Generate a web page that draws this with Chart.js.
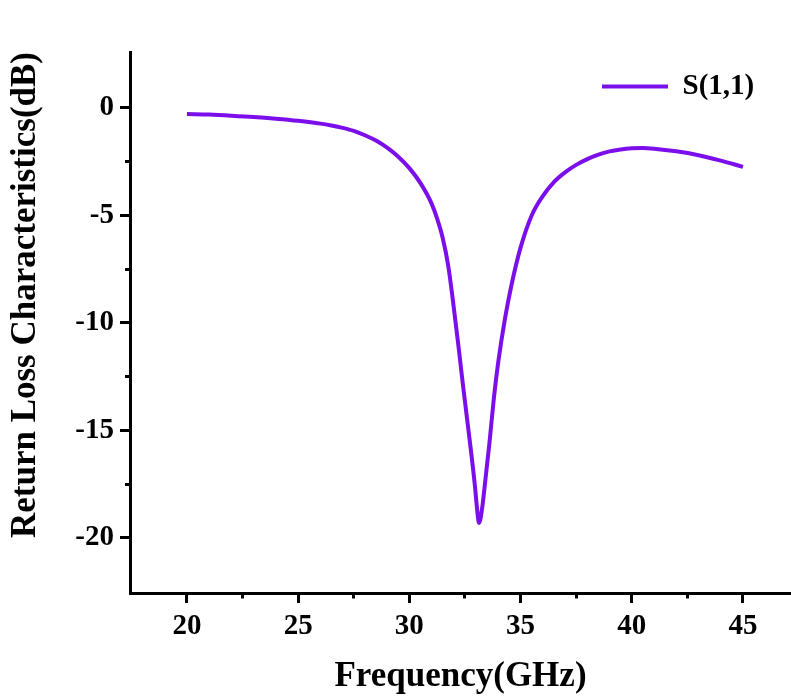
<!DOCTYPE html>
<html>
<head>
<meta charset="utf-8">
<script src="https://cdn.jsdelivr.net/npm/chart.js@4.4.1/dist/chart.umd.min.js"></script>
<style>
    body { margin: 0; background: #fff; }
    #caja { width: 791px; height: 698px; position: relative; }
</style>
</head>
<body>
<div id="caja"><canvas id="graficoS11"></canvas></div>
<script>
// datos
var frecuencia = [20, 21, 22, 23, 24, 25, 26, 26.5, 27, 27.5, 28, 28.5, 29, 29.5, 30, 30.5,
    31, 31.25, 31.5, 31.75, 32, 32.2, 32.4, 32.6, 32.8, 32.95, 33.05, 33.13, 33.2, 33.3, 33.45, 33.6,
    33.8, 34.0, 34.3, 34.6, 35, 35.5, 36, 36.5, 37, 37.5, 38, 38.5, 39, 39.5, 40, 40.5, 41,
    42, 43, 44, 45];
var s11 = [-0.28, -0.31, -0.36, -0.42, -0.50, -0.60, -0.73, -0.82, -0.93, -1.07, -1.27, -1.52, -1.85, -2.27, -2.80, -3.5,
    -4.45, -5.15, -6.05, -7.35, -9.3, -11.0, -12.8, -14.5, -16.2, -17.6, -18.7, -19.3, -19.1, -18.4, -17.0, -15.6,
    -13.5, -11.8, -9.8, -8.2, -6.5, -5.0, -4.1, -3.45, -3.0, -2.65, -2.38, -2.17, -2.02, -1.93, -1.88, -1.87, -1.9,
    -2.02, -2.2, -2.45, -2.74];

var xMayores = [20, 25, 30, 35, 40, 45];
var xMenores = [22.5, 27.5, 32.5, 37.5, 42.5];
var yMayores = [-20, -15, -10, -5, 0];
var yMenores = [-17.5, -12.5, -7.5, -2.5];

var morado = '#7B0EEB';
var fuente = "'Liberation Serif', 'Times New Roman', serif";

function esMenor(lista, v) {
    return lista.indexOf(v) >= 0;
}

// coloca la leyenda arriba a la derecha, dentro del area
var moverLeyenda = {
    id: 'moverLeyenda',
    afterLayout: function (chart) {
        var lg = chart.legend;
        var w = lg.right - lg.left, h = lg.bottom - lg.top;
        lg.left = 585; lg.right = 585 + w;
        lg.top = 55; lg.bottom = 55 + h;
    }
};

Chart.defaults.font.family = fuente;
Chart.defaults.font.weight = 'bold';
Chart.defaults.color = '#000';

var puntos = frecuencia.map(function (f, i) { return { x: f, y: s11[i] }; });

new Chart(document.getElementById('graficoS11'), {
    type: 'line',
    data: {
        datasets: [{
            label: 'S(1,1)',
            data: puntos,
            borderColor: morado,
            backgroundColor: morado,
            borderWidth: 4,
            pointRadius: 0,
            cubicInterpolationMode: 'monotone',
            fill: false
        }]
    },
    plugins: [moverLeyenda],
    options: {
        responsive: true,
        maintainAspectRatio: false,
        animation: false,
        layout: { padding: { top: 52, left: 0, right: 0, bottom: 0 } },
        plugins: {
            tooltip: { enabled: false },
            legend: {
                position: 'chartArea',
                align: 'start',
                labels: {
                    usePointStyle: true,
                    pointStyle: 'line',
                    pointStyleWidth: 66,
                    padding: 17,
                    color: '#000',
                    font: { size: 29, weight: 'bold', family: fuente }
                }
            }
        },
        scales: {
            x: {
                type: 'linear',
                min: 17.44,
                max: 47.16,
                afterFit: function (s) { s.height = 105; },
                afterBuildTicks: function (s) {
                    s.ticks = xMayores.concat(xMenores).sort(function (a, b) { return a - b; })
                        .map(function (v) { return { value: v }; });
                },
                border: { display: true, color: '#000', width: 3 },
                grid: {
                    drawOnChartArea: false,
                    drawTicks: true,
                    tickLength: 10,
                    tickWidth: 3,
                    tickColor: '#000',
                    tickBorderDash: function (ctx) {
                        return (ctx.tick && esMenor(xMenores, ctx.tick.value)) ? [3.5, 100] : [];
                    }
                },
                ticks: {
                    padding: 6,
                    autoSkip: false,
                    maxRotation: 0,
                    font: { size: 29, weight: 'bold', family: fuente },
                    callback: function (v) { return esMenor(xMayores, v) ? v : ''; }
                },
                title: {
                    display: true,
                    text: 'Frequency(GHz)',
                    padding: { top: 0, bottom: 0 },
                    font: { size: 35, weight: 'bold', family: fuente, lineHeight: 1.2 }
                }
            },
            y: {
                min: -22.56,
                max: 2.6,
                afterFit: function (s) { s.width = 130; },
                afterBuildTicks: function (s) {
                    s.ticks = yMayores.concat(yMenores).sort(function (a, b) { return a - b; })
                        .map(function (v) { return { value: v }; });
                },
                border: { display: true, color: '#000', width: 3 },
                grid: {
                    drawOnChartArea: false,
                    drawTicks: true,
                    tickLength: 10,
                    tickWidth: 3,
                    tickColor: '#000',
                    tickBorderDash: function (ctx) {
                        return (ctx.tick && esMenor(yMenores, ctx.tick.value)) ? [0, 5, 100] : [];
                    }
                },
                ticks: {
                    padding: 6,
                    autoSkip: false,
                    font: { size: 29, weight: 'bold', family: fuente },
                    callback: function (v) { return esMenor(yMayores, v) ? v : ''; }
                },
                title: {
                    display: true,
                    text: 'Return Loss Characteristics(dB)',
                    align: 'end',
                    padding: { top: 5, bottom: 0 },
                    font: { size: 35, weight: 'bold', family: fuente, lineHeight: 1.2 }
                }
            }
        }
    }
});
</script>
</body>
</html>
